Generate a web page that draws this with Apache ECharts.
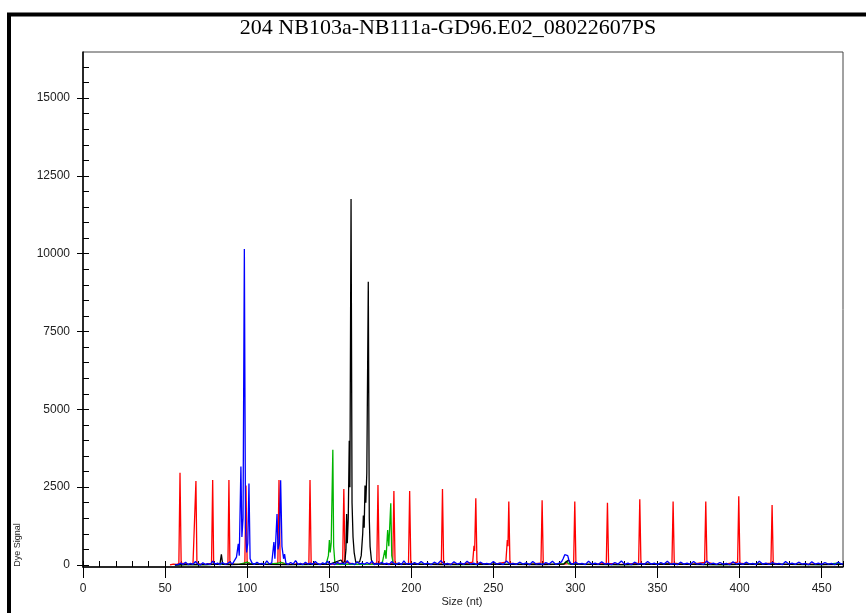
<!DOCTYPE html>
<html>
<head>
<meta charset="UTF-8">
<title>204 NB103a-NB111a-GD96.E02_08022607PS</title>
<script src="https://cdn.jsdelivr.net/npm/echarts@6.0.0/dist/echarts.min.js"></script>
<style>
    html, body { margin: 0; padding: 0; background: #fff; }
    #chart { width: 866px; height: 613px; }
</style>
</head>
<body>
<div id="chart"></div>
<script>
const chartTitle = '204 NB103a-NB111a-GD96.E02_08022607PS';
const xName = 'Size (nt)';
const yName = 'Dye Signal';
const yLabelValues = [0, 2500, 5000, 7500, 10000, 12500, 15000];
const yMinorValues = [0, 500, 1000, 1500, 2000, 2500, 3000, 3500, 4000, 4500, 5000, 5500, 6000, 6500, 7000, 7500,
    8000, 8500, 9000, 9500, 10000, 10500, 11000, 11500, 12000, 12500, 13000, 13500, 14000, 14500, 15000, 15500, 16000];

// size standard (red)
const redTrace = [[53,0],[55,30],[57,20],[58.4,40],[59.1,2960],[59.8,60],[61,20],[64,30],[67,20],[68.2,60],[68.8,2700],[69.4,50],
    [72,20],[75,30],[78.3,50],[79,2730],[79.6,40],[83,20],[86,30],[88.3,40],[88.9,2730],[89.5,50],[93,20],[96,30],
    [98.6,60],[99.3,2550],[100,80],[103,30],[108,20],[113,30],[118.7,60],[119.4,2730],[120.1,80],[125,20],[130,30],
    [134,20],[137.6,50],[138.3,2730],[139,50],[143,30],[148,20],[153,30],[158.2,60],[158.9,2440],[159.6,90],[165,30],
    [170,20],[175,30],[179,60],[179.7,2570],[180.4,60],[185,30],[188.7,60],[189.4,2380],[190.1,60],[195,30],[198.3,50],
    [199,2380],[199.7,50],[205,30],[210,20],[218.3,40],[219,2440],[219.7,40],[225,30],[230,20],[237.4,90],[238.2,620],
    [238.6,450],[239.3,2140],[240,60],[245,30],[250,20],[257.6,90],[258.5,800],[258.9,600],[259.4,2035],[260.1,60],
    [265,30],[270,20],[279,60],[279.7,2080],[280.4,50],[285,30],[290,20],[298.9,50],[299.6,2035],[300.3,50],[305,30],
    [310,20],[318.8,50],[319.5,2000],[320.2,50],[325,30],[330,20],[338.5,60],[339.2,2110],[339.9,50],[345,30],[350,20],
    [358.8,60],[359.5,2035],[360.2,60],[365,30],[370,20],[378.7,80],[379.4,2035],[380.1,80],[385,30],[390,20],
    [398.8,90],[399.5,2210],[400.2,60],[405,30],[410,20],[419.1,60],[419.8,1930],[420.5,60],[425,30],[435,20],
    [445,30],[455,20],[463,30]];

const greenTrace = [[56,0],[65,20],[75,10],[85,30],[95,20],[98,60],[100,90],[102,40],[110,20],[118,50],[121,80],[124,20],
    [135,10],[145,20],[148.2,40],[149.5,300],[150.1,800],[150.6,400],[151.2,700],[152.2,3700],[152.7,600],[153.4,100],
    [154.5,20],[160,30],[170,20],[180,30],[182.3,60],[183.9,480],[184.6,200],[185.6,1125],[186.3,600],[187.5,1980],
    [188.1,300],[189,40],[195,20],[210,30],[230,10],[250,20],[270,30],[285,20],[293,40],[294.5,120],[296,30],[310,20],
    [330,10],[350,30],[370,20],[390,10],[410,30],[430,20],[450,10],[460,60],[463,20]];

const blackTrace = [[56,0],[65,20],[75,10],[80,30],[83.4,20],[84.3,340],[85.1,20],[90,10],[100,30],[110,20],[125,10],
    [140,30],[150,20],[157.2,160],[158.5,40],[159.6,150],[160.2,500],[160.6,1640],[161.0,700],[161.6,1500],[162.2,3990],
    [162.6,2500],[163.3,11760],[163.9,2000],[164.5,900],[165.2,400],[166.2,80],[167,60],[168.5,100],[169.5,300],
    [170.4,1000],[170.8,1585],[171.3,1200],[171.8,2550],[172.3,2000],[172.9,2950],[173.8,9100],[174.4,1500],
    [174.9,590],[175.7,160],[177,40],[185,20],[200,30],[220,10],[240,30],[260,20],[280,10],[293,30],[295.8,160],
    [297,30],[310,20],[330,10],[350,30],[370,20],[390,10],[410,30],[430,20],[450,10],[463,20]];

const blueTrace = [[56,0],[57,40],[58,10],[59.5,60],[61,20],[62.5,90],[64,10],[65.5,50],[67,20],[68.5,110],[70,30],[71.5,0],
    [73,70],[74.5,20],[76,40],[77.5,10],[79,120],[80.5,30],[82,60],[83.5,10],[85,80],[86.5,20],[88,40],[89.5,100],[91,30],
    [92,60],[93.5,250],[94.6,680],[95.2,300],[96.2,3160],[96.8,900],[97.5,1500],[98.3,10150],[99.0,1200],[99.7,400],
    [100.4,700],[101.1,2620],[101.8,200],[103,60],[104.5,20],[106,90],[107.5,30],[109,50],[110.5,10],[112,130],[113.5,30],
    [115,70],[116.3,740],[116.9,200],[118.2,1640],[118.8,500],[119.6,700],[120.4,2720],[121.2,600],[122.2,200],[122.8,350],
    [123.6,60],[125,20],[126.5,80],[128,30],[129.5,140],[131,20],[132.5,50],[134,10],[135.5,90],[137,30],[138.5,60],
    [140,20],[141.5,110],[143,40],[144.5,10],[146,70],[147.5,30],[149,120],[150.5,20],[152,50],[153.5,10],[155,90],
    [156.5,30],[158,60],[159.5,20],[161,140],[162.5,30],[164,50],[165.5,10],[167,100],[168.5,30],[170,60],[171.5,20],
    [173,80],[174.5,30],[176,120],[177.5,10],[179,50],[180.5,20],[182,90],[183.5,30],[185,60],[186.5,10],[188,110],
    [189.5,40],[191,20],[192.5,70],[194,10],[195.5,130],[197,30],[198.5,50],[200,20],[202,80],[204,20],[206,110],[208,30],
    [210,60],[212,10],[214,90],[216,30],[218,140],[220,20],[222,50],[224,10],[226,100],[228,30],[230,70],[232,20],
    [234,120],[236,30],[238,60],[240,10],[242,90],[244,30],[246,50],[248,20],[250,110],[252,30],[254,60],[256,10],
    [258,130],[260,30],[262,50],[264,20],[266,90],[268,30],[270,70],[272,10],[274,110],[276,30],[278,50],[280,20],
    [282,80],[284,30],[286,120],[288,20],[290,60],[291.5,100],[292.5,200],[293.5,330],[294.5,360],[295.3,300],[296,160],
    [297,60],[298.5,20],[300,90],[302,30],[304,50],[306,10],[308,120],[310,30],[312,60],[314,20],[316,100],[318,30],
    [320,50],[322,10],[324,80],[326,30],[328,130],[330,20],[332,60],[334,10],[336,90],[338,30],[340,50],[342,20],
    [344,110],[346,30],[348,60],[350,10],[352,80],[354,30],[356,120],[358,20],[360,50],[362,10],[364,90],[366,30],
    [368,60],[370,20],[372,110],[374,30],[376,50],[378,10],[380,130],[382,30],[384,60],[386,20],[388,80],[390,30],
    [392,50],[394,10],[396,100],[398,30],[400,60],[402,20],[404,90],[406,30],[408,50],[410,10],[412,120],[414,30],
    [416,60],[418,20],[420,80],[422,30],[424,50],[426,10],[428,110],[430,30],[432,60],[434,20],[436,90],[438,30],
    [440,50],[442,10],[444,100],[446,30],[448,60],[450,20],[452,80],[454,30],[456,50],[458,10],[460,90],[462,30],[463,40]];

const chart = echarts.init(document.getElementById('chart'));

function trace(name, data, color) {
    return {
        name: name,
        type: 'line',
        data: data,
        symbol: 'none',
        xAxisIndex: 0,
        yAxisIndex: 0,
        lineStyle: { color: color, width: 1.3 },
        animation: false
    };
}

const option = {
    animation: false,
    backgroundColor: '#fff',
    title: {
        text: chartTitle,
        left: 443,
        top: 12,
        textAlign: 'center',
        textStyle: { fontFamily: 'Liberation Serif', fontSize: 22, fontWeight: 'normal', color: '#000' }
    },
    grid: {
        left: 83, right: 23, top: 52, bottom: 46,
        show: true, borderColor: '#444', borderWidth: 1
    },
    xAxis: [
        {
            type: 'value', min: 0, max: 463, interval: 50,
            axisLine: { onZero: false, lineStyle: { color: '#000', width: 1.5 } },
            axisTick: { length: 11, lineStyle: { color: '#000' } },
            axisLabel: { margin: 16, fontFamily: 'Liberation Sans', fontSize: 12, color: '#222', showMaxLabel: false },
            splitLine: { show: false }
        },
        {
            type: 'value', min: 0, max: 463, interval: 10, position: 'bottom',
            axisLine: { show: false, onZero: false },
            axisTick: { inside: true, length: 6, lineStyle: { color: '#000' } },
            axisLabel: { show: false },
            splitLine: { show: false }
        }
    ],
    yAxis: [
        {
            type: 'value', min: -65, max: 16480,
            axisLine: { show: true, lineStyle: { color: '#000', width: 1.5 } },
            axisTick: { show: true, length: 6, customValues: yLabelValues, lineStyle: { color: '#000' } },
            axisLabel: {
                margin: 13, customValues: yLabelValues, fontFamily: 'Liberation Sans', fontSize: 12, color: '#222',
                formatter: v => String(v)
            },
            splitLine: { show: false }
        },
        {
            type: 'value', min: -65, max: 16480, position: 'left',
            axisLine: { show: false },
            axisTick: { show: true, inside: true, length: 6, customValues: yMinorValues, lineStyle: { color: '#000' } },
            axisLabel: { show: false },
            splitLine: { show: false }
        }
    ],
    graphic: [
        {
            type: 'rect', silent: true,
            shape: { x: 9, y: 14.5, width: 900, height: 700 },
            style: { fill: 'none', stroke: '#000', lineWidth: 4 }
        },
        {
            type: 'text', x: 462, y: 602,
            style: { text: xName, font: '11px "Liberation Sans"', fill: '#222', align: 'center', verticalAlign: 'middle' }
        },
        {
            type: 'text', x: 18, y: 545, rotation: Math.PI / 2,
            style: { text: yName, font: '9px "Liberation Sans"', fill: '#222', align: 'center', verticalAlign: 'middle' }
        }
    ],
    series: [
        trace('Red', redTrace, '#ff0000'),
        trace('Green', greenTrace, '#00b400'),
        trace('Black', blackTrace, '#000000'),
        trace('Blue', blueTrace, '#0000ff')
    ]
};

chart.setOption(option);
</script>
</body>
</html>
